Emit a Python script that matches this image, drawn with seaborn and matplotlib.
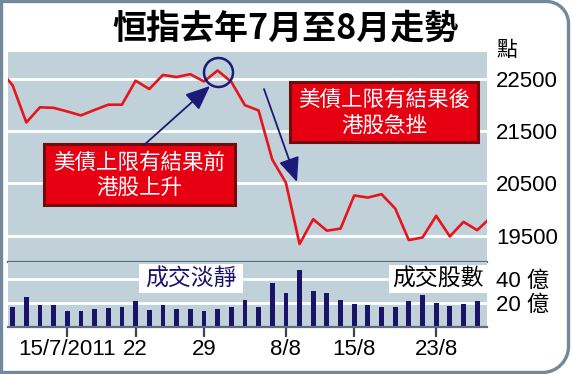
import numpy as np
import pandas as pd
import matplotlib
matplotlib.use("Agg")
import matplotlib.pyplot as plt
import seaborn as sns
from matplotlib import font_manager
from matplotlib.patches import Rectangle, Ellipse, FancyArrowPatch, PathPatch
from matplotlib.path import Path
from matplotlib.transforms import Affine2D

# ---------------- data ----------------
dates = ['8/7', '11/7', '12/7', '13/7', '14/7', '15/7', '18/7', '19/7', '20/7', '21/7',
         '22/7', '25/7', '26/7', '27/7', '28/7', '29/7', '1/8', '2/8', '3/8', '4/8',
         '5/8', '8/8', '9/8', '10/8', '11/8', '12/8', '15/8', '16/8', '17/8', '18/8',
         '19/8', '22/8', '23/8', '24/8', '25/8', '26/8', '29/8']
hsi = [22700, 22380, 21670, 21960, 21950, 21880, 21805, 21910, 22010, 22010,
       22470, 22310, 22580, 22540, 22595, 22455, 22665, 22450, 22000, 21900,
       20960, 20515, 19340, 19815, 19595, 19635, 20270, 20230, 20295, 20020,
       19415, 19465, 19880, 19485, 19765, 19605, 19850]
vol_dates = dates[1:36]
volume = [16.2, 24.9, 18.4, 17.8, 13.5, 12.9, 15.1, 15.9, 16.7, 21.1,
          14.3, 18.4, 15.1, 15.1, 13.5, 15.1, 16.7, 22.7, 16.2, 36.1,
          27.9, 46.9, 30.0, 27.9, 22.4, 18.6, 18.4, 16.2, 16.2, 21.6,
          26.3, 20.2, 17.0, 18.6, 21.1]
tick_days = ['15/7', '22/7', '29/7', '8/8', '15/8', '23/8']
tick_labels = ['15/7/2011', '22', '29', '8/8', '15/8', '23/8']
hsi_ticks = [19500, 20500, 21500, 22500]
vol_ticks = [20, 40]
vol_tick_labels = ['20 億', '40 億']

title = '恒指去年7月至8月走勢'
note_before = ['美債上限有結果前', '港股上升']
note_after = ['美債上限有結果後', '港股急挫']

# ---------------- style ----------------
W, H = 572, 374
PANEL = '#c1d1da'
RED = '#e8141b'
NAVY = '#1a1468'
DARK = '#5c6c78'
FRAME = '#71899a'
CJK = 'Noto Sans CJK TC'
names = {f.name for f in font_manager.fontManager.ttflist}
num_font = 'Liberation Sans' if 'Liberation Sans' in names else 'DejaVu Sans'
narrow = 'Liberation Sans Narrow' in names
xt_font = 'Liberation Sans Narrow' if narrow else num_font
xt_size = 19.5 if narrow else 16

plt.rcParams['font.family'] = [num_font, CJK, 'DejaVu Sans']

pos_of = {d: i - 1 for i, d in enumerate(dates)}
df = pd.DataFrame({'pos': [pos_of[d] for d in dates], 'hsi': hsi})
dv = pd.DataFrame({'pos': [pos_of[d] for d in vol_dates], 'vol': volume})

fig = plt.figure(figsize=(W / 100, H / 100), dpi=100)
fig.patch.set_facecolor('white')
T = Affine2D().scale(1, -1).translate(0, H).scale(1 / W, 1 / H) + fig.transFigure

def fr(l, t, r, b):
    return [l / W, 1 - b / H, (r - l) / W, (b - t) / H]

ax1 = fig.add_axes(fr(8, 52, 487, 262))
ax2 = fig.add_axes(fr(8, 262, 487, 327))
XL = (-0.34, 34.72)

for ax in (ax1, ax2):
    ax.set_facecolor(PANEL)
    for s in ax.spines.values():
        s.set_visible(False)
    ax.set_axisbelow(True)
    ax.set_xlim(*XL)

# upper: index line
sns.lineplot(data=df, x='pos', y='hsi', ax=ax1, color=RED, linewidth=1.9,
             zorder=3, legend=False)
ax1.set_ylim(18995, 23020)
ax1.set_xlim(*XL)
ax1.set_yticks(hsi_ticks)
ax1.set_yticklabels([str(v) for v in hsi_ticks])
ax1.yaxis.tick_right()
ax1.tick_params(axis='y', length=0, pad=6.5, labelsize=16)
ax1.tick_params(axis='x', length=0, labelbottom=False)
ax1.grid(axis='y', color='white', linewidth=2.0)
ax1.grid(axis='x', visible=False)
ax1.set_xlabel('')
ax1.set_ylabel('')
ax1.spines['bottom'].set_visible(True)
ax1.spines['bottom'].set_color(DARK)
ax1.spines['bottom'].set_linewidth(1.6)
ax1.spines['bottom'].set_zorder(5)

# lower: turnover bars
sns.barplot(data=dv, x='pos', y='vol', ax=ax2, native_scale=True, width=0.35,
            color=NAVY, saturation=1, linewidth=0, errorbar=None, zorder=3)
ax2.set_xlim(*XL)
ax2.set_ylim(0, 53.7)
ax2.set_yticks(vol_ticks)
ax2.set_yticklabels(vol_tick_labels)
ax2.yaxis.tick_right()
ax2.tick_params(axis='y', length=0, pad=6.5, labelsize=16)
ax2.grid(axis='y', color='white', linewidth=2.0)
ax2.grid(axis='x', visible=False)
ax2.set_xticks([pos_of[d] for d in tick_days])
ax2.set_xticklabels(tick_labels, fontfamily=xt_font, fontsize=xt_size)
ax2.tick_params(axis='x', length=7.5, width=1.6, color='#3c4650', pad=1.0)
ax2.set_xlabel('')
ax2.set_ylabel('')
ax2.spines['bottom'].set_visible(True)
ax2.spines['bottom'].set_color(DARK)
ax2.spines['bottom'].set_linewidth(1.6)
ax2.spines['bottom'].set_zorder(5)

# panel labels in lower axis
fig.add_artist(Rectangle((139, 264), 104, 29, transform=T, facecolor='white',
                         edgecolor='none', zorder=4))
fig.text(191, 279, '成交淡靜', transform=T, ha='center', va='center',
         fontsize=16.5, color=NAVY, family=[CJK], fontweight='medium', zorder=5)
fig.add_artist(Rectangle((389, 265), 98, 28, transform=T, facecolor='white',
                         edgecolor='none', zorder=4))
fig.text(438, 279, '成交股數', transform=T, ha='center', va='center',
         fontsize=16.5, color='black', family=[CJK], zorder=5)

# frame
r1, r2 = 22, 26
k = 0.5523
L, Tp, R, B = 1.5, 1.5, 568.5, 372.5
verts = [(L, Tp), (R - r1, Tp),
         (R - r1 + k * r1, Tp), (R, Tp + r1 - k * r1), (R, Tp + r1),
         (R, B - r2),
         (R, B - r2 + k * r2), (R - r2 + k * r2, B), (R - r2, B),
         (L, B), (L, Tp)]
codes = [Path.MOVETO, Path.LINETO,
         Path.CURVE4, Path.CURVE4, Path.CURVE4,
         Path.LINETO,
         Path.CURVE4, Path.CURVE4, Path.CURVE4,
         Path.LINETO, Path.CLOSEPOLY]
fig.add_artist(PathPatch(Path(verts, codes), transform=T, facecolor='none',
                         edgecolor=FRAME, linewidth=2.4, zorder=10))

# title and unit
fig.text(285, 28, title, transform=T, ha='center', va='center', fontsize=24.5,
         fontweight='bold', family=[CJK], color='black')
fig.text(507, 50, '點', transform=T, ha='center', va='center', fontsize=15,
         family=[CJK], color='black')

# annotation boxes
def note_box(l, t, r, b, lines, y1, y2):
    fig.add_artist(Rectangle((l, t), r - l, b - t, transform=T, facecolor='#e60012',
                             edgecolor='#6e0d0b', linewidth=2.2, zorder=6))
    cx = (l + r) / 2
    for txt, yy in zip(lines, (y1, y2)):
        fig.text(cx, yy, txt, transform=T, ha='center', va='center', fontsize=15.5,
                 family=[CJK], color='white', zorder=7)

note_box(44, 144, 235, 205, note_before, 163, 188)
note_box(290, 82, 478, 142, note_after, 100, 126)

# circle and arrows
fig.add_artist(Ellipse((218.5, 72.5), 29, 29, transform=T, facecolor='none',
                       edgecolor='#1c1a78', linewidth=1.8, zorder=8))
for (x0, y0), (x1, y1) in [((144, 145), (210, 86)), ((264, 89), (297, 182))]:
    fig.add_artist(FancyArrowPatch((x0, y0), (x1, y1), transform=T,
                                   arrowstyle='-|>,head_length=0.75,head_width=0.32',
                                   mutation_scale=20, color='#1c1a78', linewidth=1.3,
                                   shrinkA=0, shrinkB=0, zorder=8))

fig.savefig('out.png', dpi=100)
